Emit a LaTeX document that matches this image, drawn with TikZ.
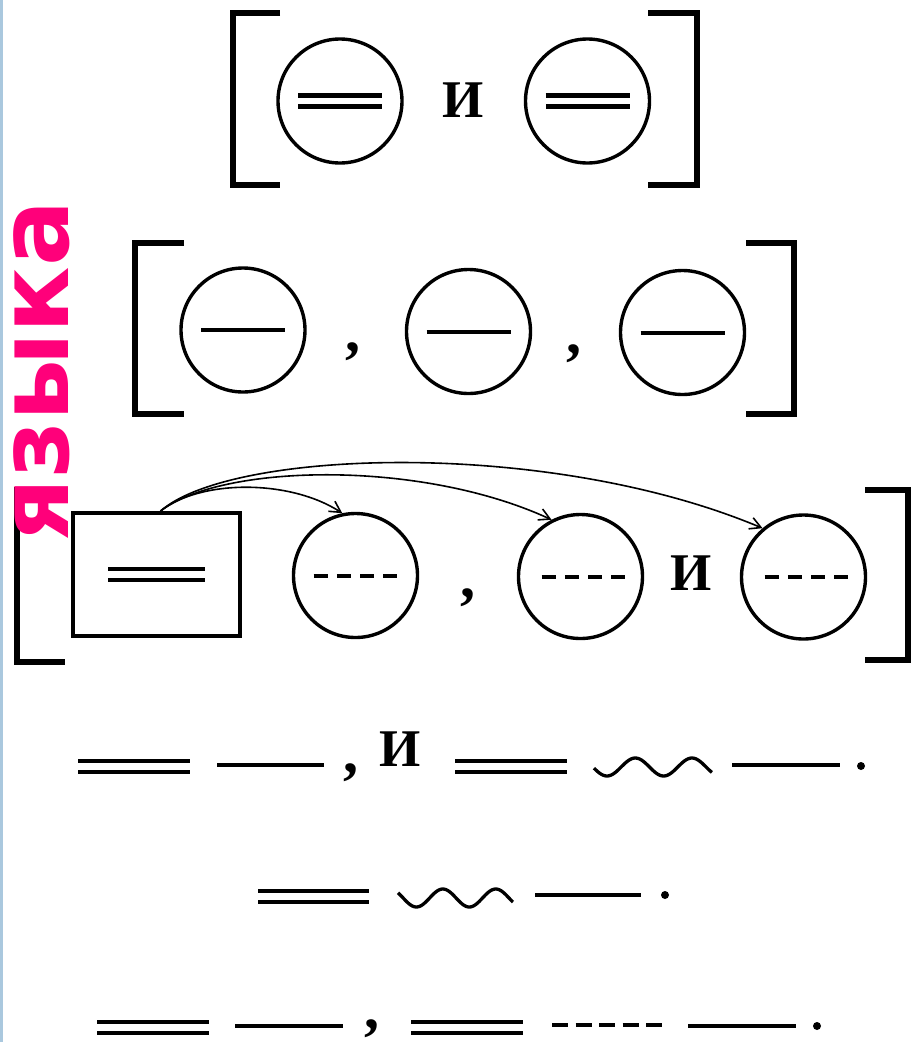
\documentclass[tikz,border=0pt]{standalone}
\usepackage{fontspec}
\setmainfont{Liberation Serif}
\newfontfamily\pinkfont{DejaVu Sans}
\usetikzlibrary{arrows.meta}
\definecolor{pinkc}{RGB}{255,0,122}
\definecolor{edgeblue}{RGB}{170,200,222}
\begin{document}
\begin{tikzpicture}[x=1pt,y=-1pt,
  brk/.style={line width=5.5pt},
  circ/.style={circle,draw,line width=3.4pt,minimum size=124pt,inner sep=0pt},
  dbl/.style={double,double distance=6.8pt,line width=4.2pt},
  sgl/.style={line width=4pt},
  dshfour/.style={line width=4pt,dash pattern=on 14pt off 9.33pt},
  dshfive/.style={line width=4pt,dash pattern=on 16pt off 7.5pt},
  wv/.style={line width=3.3pt},
  lbl/.style={font=\bfseries\fontsize{53}{60}\selectfont,inner sep=0pt},
  commanode/.style={font=\bfseries\fontsize{60}{60}\selectfont,inner sep=0pt},
  arr/.style={line width=1.6pt,-{Straight Barb[length=11pt,width=12pt]}},
  dotn/.style={circle,fill,inner sep=0pt,minimum size=8pt}]
\useasboundingbox (0,0) rectangle (913,1042);
\fill[white] (0,0) rectangle (913,1042);
\fill[edgeblue] (0,0) rectangle (2.6,1042);

% ---------- row 1 ----------
\draw[brk] (280,13) -- (233,13) -- (233,185) -- (280,185);
\draw[brk] (648,13) -- (697,13) -- (697,185) -- (648,185);
\node[circ] (a1) at (340,101) {};
\node[circ] (a2) at (587.5,101) {};
\draw[dbl] ([xshift=-42pt]a1.center) -- ([xshift=42pt]a1.center);
\draw[dbl] ([xshift=-42pt]a2.center) -- ([xshift=42pt]a2.center);
\node[lbl,anchor=base] (i1) at (463,117) {И};

% ---------- row 2 ----------
\draw[brk] (184,243) -- (135,243) -- (135,414) -- (184,414);
\draw[brk] (746,243) -- (794,243) -- (794,414) -- (746,414);
\node[circ] (b1) at (243,330) {};
\node[circ] (b2) at (468.5,331.5) {};
\node[circ] (b3) at (682.5,332.5) {};
\draw[sgl] ([xshift=-42pt]b1.center) -- ([xshift=42pt]b1.center);
\draw[sgl] ([xshift=-42pt]b2.center) -- ([xshift=42pt]b2.center);
\draw[sgl] ([xshift=-42pt]b3.center) -- ([xshift=42pt]b3.center);
\node[commanode] (k21) at (353,352) {,};
\node[commanode] (k22) at (574,354) {,};

% ---------- row 3 ----------
\draw[brk] (65,490) -- (17,490) -- (17,662) -- (65,662);
\draw[brk] (865,490) -- (908,490) -- (908,660) -- (865,660);
\node[draw,line width=3.8pt,minimum width=167pt,minimum height=123pt,inner sep=0pt] (r) at (156.5,574.5) {};
\draw[dbl] ([xshift=-48.5pt]r.center) -- ([xshift=48.5pt]r.center);
\node[circ] (c1) at (355.5,575.5) {};
\node[circ] (c2) at (580.5,576.5) {};
\node[circ] (c3) at (803.5,577) {};
\draw[dshfour] ([xshift=-42pt]c1.center) -- ([xshift=42pt]c1.center);
\draw[dshfour] ([xshift=-39pt]c2.center) -- ([xshift=45pt]c2.center);
\draw[dshfour] ([xshift=-39pt]c3.center) -- ([xshift=45pt]c3.center);
\node[commanode] (k3) at (468,598) {,};
\node[lbl,anchor=base] (i3) at (691,590) {И};
\draw[arr] ([xshift=4pt]r.north) .. controls +(40,-32) and +(-52,-34) .. (c1.102);
\draw[arr] ([xshift=4pt]r.north) .. controls +(60,-47) and +(-132,-61) .. (c2.117);
\draw[arr] ([xshift=4pt]r.north) .. controls +(70,-62) and +(-214,-90) .. (c3.130);

% ---------- row 4 ----------
\draw[dbl] (78,766.2) -- (190,766.2);
\draw[sgl] (217,765) -- (324,765);
\node[commanode] (k4) at (351,773) {,};
\node[lbl,anchor=base] (i4) at (400,766) {И};
\draw[dbl] (455,766.2) -- (567,766.2);
\draw[wv] plot[domain=0:1,samples=80,smooth] ({594+118*\x},{767+9*cos(360*(\x-0.11)/0.48)});
\draw[sgl] (732,765) -- (840,765);
\node[dotn] (d4) at (861,766) {};

% ---------- row 5 ----------
\draw[dbl] (258,896.2) -- (369,896.2);
\draw[wv] plot[domain=0:1,samples=80,smooth] ({398+115*\x},{898+9*cos(360*(\x-0.16)/0.46)});
\draw[sgl] (535,895) -- (641,895);
\node[dotn] (d5) at (665,895) {};

% ---------- row 6 ----------
\draw[dbl] (97,1027.2) -- (209,1027.2);
\draw[sgl] (235,1026) -- (343,1026);
\node[commanode] (k6) at (371.5,1029) {,};
\draw[dbl] (411,1027.2) -- (523,1027.2);
\draw[dshfive] (552,1025) -- (662,1025);
\draw[sgl] (688,1026) -- (796,1026);
\node[dotn] (d6) at (817,1026) {};

% ---------- pink vertical word ----------
\node[rotate=90,anchor=base west,inner sep=0pt,text=pinkc,text height=56pt,text depth=0pt,
      font=\pinkfont\bfseries\fontsize{98}{100}\selectfont] (yz) at (68,542) {языка};
\end{tikzpicture}
\end{document}
